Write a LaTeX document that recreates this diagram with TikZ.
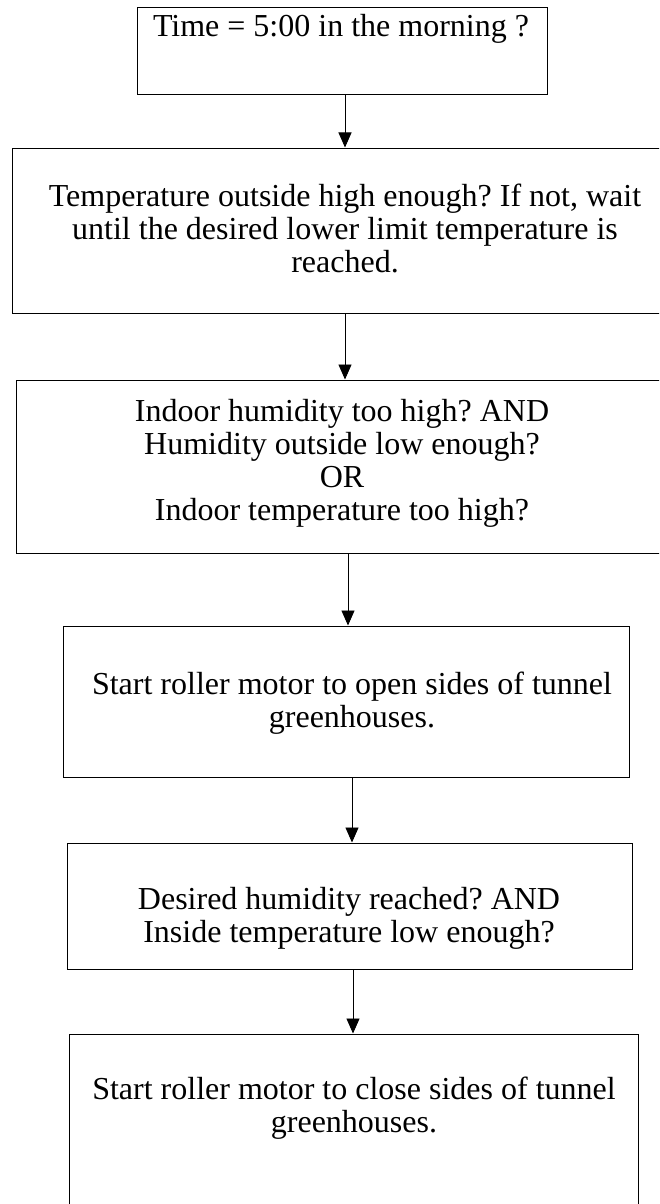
\documentclass[tikz,border=0pt]{standalone}
\usepackage{fontspec}
\setmainfont{Liberation Serif}
\usetikzlibrary{arrows.meta}
\frenchspacing
\tikzset{
  box/.style={draw, line width=1pt, rectangle, inner sep=0pt},
  txt/.style={align=center, inner sep=0pt, font=\fontsize{32}{33}\selectfont},
  arr/.style={line width=0.9pt, -{Triangle[width=13pt,length=15pt]}}
}
\begin{document}
\begin{tikzpicture}[x=1pt,y=1pt]
\useasboundingbox (0,0) rectangle (659,-1204);
\clip (0,0) rectangle (659,-1204);
\node[box, minimum width=410pt, minimum height=87pt] (b1) at (342,-51.5){};
\node[box, minimum width=666pt, minimum height=165pt] (b2) at (345,-230.5){};
\node[box, minimum width=664pt, minimum height=173pt] (b3) at (348,-466.5){};
\node[box, minimum width=566pt, minimum height=151pt] (b4) at (346,-701.5){};
\node[box, minimum width=565pt, minimum height=126pt] (b5) at (349.5,-906){};
\node[box, minimum width=569pt, minimum height=200pt] (b6) at (353.5,-1134){};
\node[txt, anchor=base] (t1) at (341,-37){Time = 5:00 in the morning ?};
\node[txt] (t2) at (345,-228){Temperature outside high enough? If not, wait\\until the desired lower limit temperature is\\reached.};
\node[txt] (t3) at (342,-463){Indoor humidity too high? AND\\Humidity outside low enough?\\OR\\Indoor temperature too high?};
\node[txt] (t4) at (352,-703){Start roller motor to open sides of tunnel\\greenhouses.};
\node[txt] (t5) at (349,-918){Desired humidity reached? AND\\Inside temperature low enough?};
\node[txt] (t6) at (354,-1108){Start roller motor to close sides of tunnel\\greenhouses.};
\draw[arr]([xshift=3pt]b1.south) -- ([xshift=3pt]b1.south |- b2.north);
\draw[arr](b2.south) -- (b2.south |- b3.north);
\draw[arr](b3.south) -- (b3.south |- b4.north);
\draw[arr]([xshift=6pt]b4.south) -- ([xshift=6pt]b4.south |- b5.north);
\draw[arr]([xshift=3.5pt]b5.south) -- ([xshift=3.5pt]b5.south |- b6.north);
\end{tikzpicture}
\end{document}
